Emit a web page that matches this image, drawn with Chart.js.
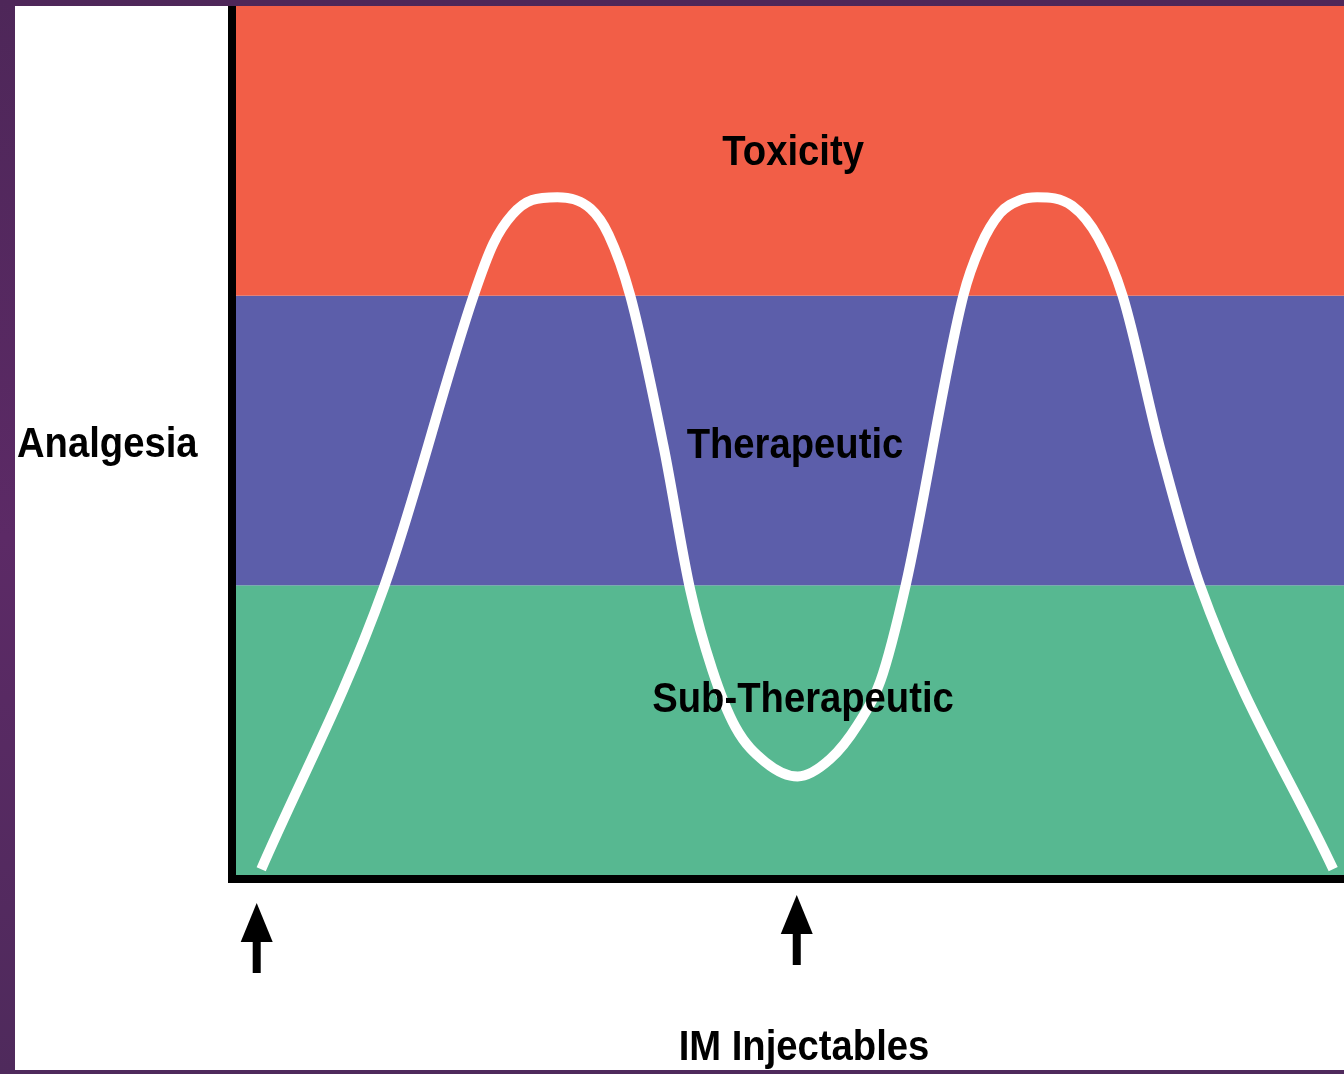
<!DOCTYPE html>
<html>
<head>
<meta charset="utf-8">
<title>IM Injectables</title>
<script src="https://cdn.jsdelivr.net/npm/chart.js@4/dist/chart.umd.min.js"></script>
<style>
  body {
    margin: 0;
    width: 1344px;
    height: 1074px;
    overflow: hidden;
    background: linear-gradient(180deg, #4e2759 0%, #5c2a66 50%, #4f2a5c 100%);
  }
  #wrap {
    position: absolute;
    left: 15px;
    top: 6px;
    width: 1329px;
    height: 1064px;
    background: #fff;
  }
</style>
</head>
<body>
<div id="wrap"><canvas id="c"></canvas></div>
<script>
// время (ч) и уровень анальгезии
const timeH = [0.05, 1.41, 2.41, 2.63, 2.84, 3.06, 3.34, 3.71, 3.91, 4.15, 4.52, 4.82, 5.06, 5.32, 5.65,
  6.01, 6.37, 6.68, 6.93, 7.21, 7.85, 8.04, 8.26, 8.48, 8.67, 9.06, 9.35, 9.62, 10.04, 10.48, 11.96];
const analgesia = [0.02, 0.99, 2.0, 2.18, 2.28, 2.33, 2.34, 2.30, 2.21, 2.0, 1.48, 0.98, 0.71, 0.51, 0.39,
  0.34, 0.40, 0.52, 0.67, 1.0, 2.0, 2.17, 2.285, 2.33, 2.34, 2.31, 2.20, 2.0, 1.47, 1.0, 0.02];

// моменты инъекций (стрелки)
const doseTimes = [0, 6];

// зоны снизу вверх
const zoneNames = ['Sub-Therapeutic', 'Therapeutic', 'Toxicity'];
const zoneBounds = [0, 1, 2, 3];
const zoneColors = ['#57b891', '#5c5eaa', '#f25e47'];
const zoneLabelY = [0.563, 1.44, 2.45];
const zoneLabelX = [6.07, 5.98, 5.96];

const yTitle = 'Analgesia';
const xTitle = 'IM Injectables';

const FONT = 'bold 42px "Liberation Sans", Arial, Helvetica, sans-serif';

function drawText(ctx, text, x, y, align) {
    ctx.save();
    ctx.translate(x, y);
    ctx.scale(0.91, 1);
    ctx.font = FONT;
    ctx.fillStyle = '#000';
    ctx.textAlign = align;
    ctx.textBaseline = 'alphabetic';
    ctx.fillText(text, 0, 0);
    ctx.restore();
}

const zonesPlugin = {
    id: 'zones',
    beforeDatasetsDraw(chart) {
        const { ctx, chartArea: a, scales: { y } } = chart;
        ctx.save();
        for (let i = 0; i < zoneNames.length; i++) {
            const top = y.getPixelForValue(zoneBounds[i + 1]);
            const bot = y.getPixelForValue(zoneBounds[i]);
            ctx.fillStyle = zoneColors[i];
            ctx.fillRect(a.left, top, a.right - a.left, bot - top);
        }
        ctx.restore();
    },
    afterDatasetsDraw(chart) {
        const { ctx, chartArea: a, scales: { x, y } } = chart;
        ctx.save();

        // оси
        ctx.fillStyle = '#000';
        ctx.fillRect(a.left - 8, 0, 8, a.bottom + 8);
        ctx.fillRect(a.left - 8, a.bottom, a.right - a.left + 8, 8);

        // стрелки инъекций
        const tipOffsets = [28, 20];
        doseTimes.forEach((t, i) => {
            const px = x.getPixelForValue(t);
            const tip = a.bottom + tipOffsets[i];
            ctx.beginPath();
            ctx.moveTo(px, tip);
            ctx.lineTo(px + 16, tip + 39);
            ctx.lineTo(px - 16, tip + 39);
            ctx.closePath();
            ctx.fill();
            ctx.fillRect(px - 4, tip + 38, 8, 32);
        });

        // подписи зон
        zoneNames.forEach((name, i) => {
            drawText(ctx, name, x.getPixelForValue(zoneLabelX[i]), y.getPixelForValue(zoneLabelY[i]), 'center');
        });

        // подписи осей
        drawText(ctx, yTitle, 2, 451, 'left');
        drawText(ctx, xTitle, x.getPixelForValue(6.08), 1054, 'center');
        ctx.restore();
    }
};

const points = timeH.map((t, i) => ({ x: t, y: analgesia[i] }));

new Chart(document.getElementById('c'), {
    type: 'line',
    data: {
        datasets: [{
            data: points,
            borderColor: '#ffffff',
            borderWidth: 10,
            borderCapStyle: 'butt',
            borderJoinStyle: 'round',
            pointRadius: 0,
            fill: false,
            cubicInterpolationMode: 'monotone',
            clip: false
        }]
    },
    options: {
        responsive: true,
        maintainAspectRatio: false,
        animation: false,
        layout: { padding: { left: 221, top: 0, right: 0, bottom: 195 } },
        scales: {
            x: { type: 'linear', min: -0.23, max: 12.08, display: false },
            y: { min: 0, max: 3, display: false }
        },
        plugins: {
            legend: { display: false },
            tooltip: { enabled: false }
        }
    },
    plugins: [zonesPlugin]
});
</script>
</body>
</html>
